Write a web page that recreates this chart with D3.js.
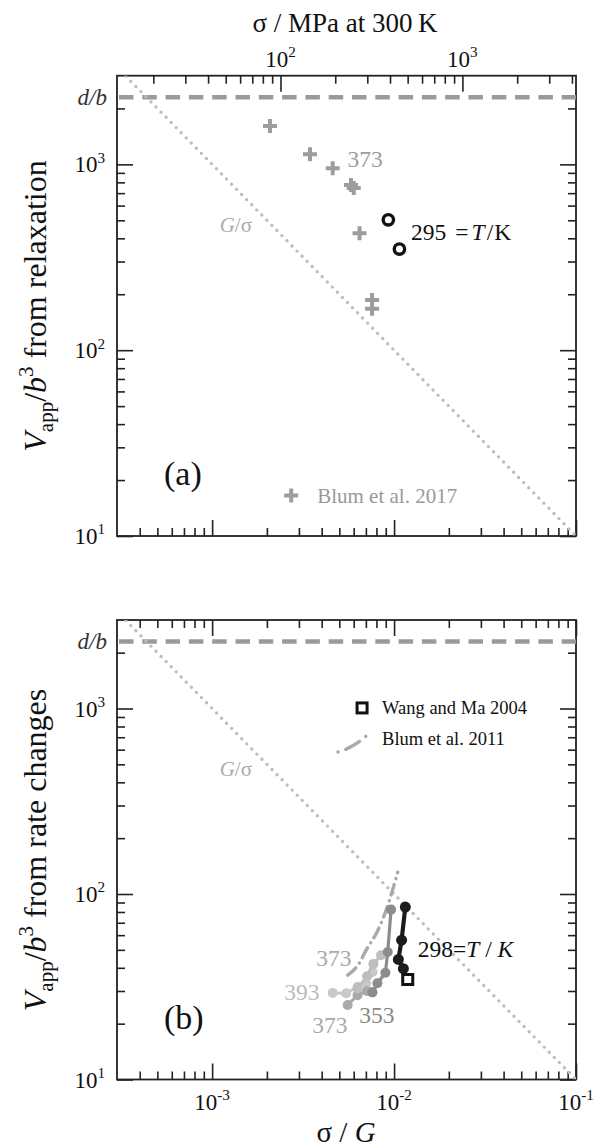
<!DOCTYPE html>
<html>
<head>
<meta charset="utf-8">
<script src="https://cdn.jsdelivr.net/npm/d3@7"></script>
<style>
  body { margin: 0; background: #fff; }
  svg, text { font-family: "Liberation Serif", "Times New Roman", serif; }
</style>
</head>
<body>
<svg id="chart" width="601" height="1148" font-family="Liberation Serif, serif"></svg>
<script>
// values (x = sigma/G, y = V_app/b^3)
const shearModulusMPa = 42100;      // maps sigma/G to sigma/MPa on the top axis
const dOverB = 2300;

const relaxation373 = [[0.00208, 1610], [0.00345, 1135], [0.0046, 954], [0.0058, 775], [0.0060, 745],
                       [0.00646, 426], [0.00757, 186], [0.00757, 167]];
const relaxation295 = [[0.0093, 503], [0.0107, 350]];

const wangMa2004 = [[0.01189, 34.6]];
const blum2011 = [[0.00556, 36.5], [0.0064, 42], [0.00702, 49.8], [0.0081, 63], [0.00904, 81.6], [0.01047, 131]];

const rate393 = [[0.0046, 29.3], [0.00545, 29.2], [0.00631, 31.6], [0.00702, 33], [0.00763, 38]];
const rate373a = [[0.0063, 31], [0.0071, 36], [0.0077, 42], [0.00848, 46.8]];
const rate373b = [[0.00556, 25.2], [0.0063, 28.5], [0.0071, 30], [0.0076, 29.5]];
const rate353 = [[0.0076, 29.5], [0.0081, 33], [0.00896, 37.6], [0.00923, 48.7], [0.00963, 82.4]];
const rate298 = [[0.01125, 39.6], [0.01056, 44.4], [0.0110, 56.4], [0.01153, 85]];

const xMajor = [1e-3, 1e-2, 1e-1];
const yMajor = [10, 100, 1000];
const mpaMajor = [100, 1000];

const svg = d3.select("#chart");
const left = 117, right = 576;

const x = d3.scaleLog().domain([3e-4, 0.1]).range([left, right]);
const mpa = d3.scaleLog().domain([3e-4 * shearModulusMPa, 0.1 * shearModulusMPa]).range([left, right]);

function minorTicks(lo, hi) {
  const out = [];
  for (let e = Math.floor(Math.log10(lo)); e <= Math.ceil(Math.log10(hi)); e++) {
    for (let m = 2; m <= 9; m++) {
      const v = m * Math.pow(10, e);
      if (v > lo * 1.0001 && v < hi * 0.9999) out.push(v);
    }
  }
  return out;
}

function tickPair(g, axisFn, scale, majors, minors) {
  g.append("g").call(axisFn(scale).tickValues(minors).tickSize(-8).tickSizeOuter(0).tickFormat(""));
  g.append("g").call(axisFn(scale).tickValues(majors).tickSize(-16).tickSizeOuter(0).tickFormat(""));
  g.selectAll("path.domain").remove();
  g.selectAll("line").attr("stroke", "#222").attr("stroke-width", 1.6);
}

function powerLabel(sel, base, exp, size) {
  sel.append("tspan").text(base);
  sel.append("tspan").attr("dy", -size * 0.42).attr("font-size", size * 0.66).text(exp);
}

const dotted = "0 7.2";

function drawPanel(top, bottom, opts) {
  const y = d3.scaleLog().domain([10, 3000]).range([bottom, top]);
  const g = svg.append("g");

  // ticks, all pointing inwards
  tickPair(g.append("g").attr("transform", `translate(${left},0)`), d3.axisLeft, y, yMajor, minorTicks(10, 3000));
  tickPair(g.append("g").attr("transform", `translate(${right},0)`), d3.axisRight, y, yMajor, minorTicks(10, 3000));
  tickPair(g.append("g").attr("transform", `translate(0,${bottom})`), d3.axisBottom, x, xMajor, minorTicks(3e-4, 0.1));
  if (opts.mpaTop) {
    tickPair(g.append("g").attr("transform", `translate(0,${top})`), d3.axisTop, mpa, mpaMajor,
      minorTicks(3e-4 * shearModulusMPa, 0.1 * shearModulusMPa));
  } else {
    tickPair(g.append("g").attr("transform", `translate(0,${top})`), d3.axisTop, x, xMajor, minorTicks(3e-4, 0.1));
  }

  g.append("rect").attr("x", left).attr("y", top).attr("width", right - left).attr("height", bottom - top)
    .attr("fill", "none").attr("stroke", "#222").attr("stroke-width", 1.8);

  // y tick labels
  yMajor.forEach(v => {
    const t = g.append("text").attr("x", 105).attr("y", y(v) + 8).attr("text-anchor", "end")
      .attr("font-size", 23).attr("fill", "#111");
    powerLabel(t, "10", String(Math.log10(v)), 23);
  });
  g.append("text").attr("x", 107).attr("y", y(dOverB) + 8).attr("text-anchor", "end")
    .attr("font-size", 23).attr("font-style", "italic").attr("fill", "#333").text("d/b");

  // clip for plot content
  const clipId = "clip" + Math.round(top);
  svg.append("clipPath").attr("id", clipId).append("rect")
    .attr("x", left).attr("y", top).attr("width", right - left).attr("height", bottom - top);
  const plot = g.append("g").attr("clip-path", `url(#${clipId})`);

  // d/b dashed line
  plot.append("line").attr("x1", left + 2).attr("x2", right).attr("y1", y(dOverB)).attr("y2", y(dOverB))
    .attr("stroke", "#9a9a9a").attr("stroke-width", 4.5).attr("stroke-dasharray", "14.5 8.8");

  // G/sigma dotted line (V = G/sigma)
  const gs = d3.range(0, 101).map(i => Math.pow(10, -3.53 + i * 2.53 / 100));
  plot.append("path").datum(gs)
    .attr("d", d3.line().x(d => x(d)).y(d => y(1 / d)))
    .attr("fill", "none").attr("stroke", "#bdbdbd").attr("stroke-width", 3.4)
    .attr("stroke-linecap", "round").attr("stroke-dasharray", dotted);

  const gsl = g.append("text").attr("x", x(1.1e-3)).attr("y", y(430)).attr("font-size", 21).attr("fill", "#aaa");
  gsl.append("tspan").attr("font-style", "italic").text("G");
  gsl.append("tspan").text("/σ");

  g.append("text").attr("x", 164).attr("y", bottom - 51).attr("font-size", 34).attr("fill", "#111").text(opts.tag);

  return { g, plot, y };
}

// ---------- panel (a) ----------
const pa = drawPanel(75.7, 536, { mpaTop: true, tag: "(a)" });

function cross(sel, cx, cy, size, color) {
  sel.append("path").attr("d", `M${cx - size},${cy}H${cx + size}M${cx},${cy - size}V${cy + size}`)
    .attr("stroke", color).attr("stroke-width", 4).attr("fill", "none");
}

relaxation373.forEach(d => cross(pa.plot, x(d[0]), pa.y(d[1]), 7, "#9d9d9d"));
pa.plot.selectAll("circle.r295").data(relaxation295).enter().append("circle")
  .attr("cx", d => x(d[0])).attr("cy", d => pa.y(d[1])).attr("r", 5.2)
  .attr("fill", "#fff").attr("stroke", "#111").attr("stroke-width", 3.4);

pa.g.append("text").attr("x", x(0.00554)).attr("y", pa.y(969)).attr("font-size", 23.5).attr("fill", "#9d9d9d").text("373");
const l295 = pa.g.append("text").attr("x", x(0.0124)).attr("y", pa.y(392)).attr("font-size", 23.5).attr("fill", "#111");
l295.append("tspan").text("295");
l295.append("tspan").attr("dx", 9).text("=");
l295.append("tspan").attr("dx", 3).attr("font-style", "italic").text("T");
l295.append("tspan").attr("dx", 2).text("/");
l295.append("tspan").attr("dx", 1).text("K");

// legend (a)
const legA = { x: x(2.72e-3), y: pa.y(16.5) };
cross(pa.g, legA.x, legA.y, 7, "#9d9d9d");
pa.g.append("text").attr("x", legA.x + 26).attr("y", legA.y + 7).attr("font-size", 21).attr("fill", "#999")
  .text("Blum et al. 2017");

// top axis
svg.append("g").selectAll("text").data(mpaMajor).enter().append("text")
  .attr("x", d => mpa(d)).attr("y", 67).attr("text-anchor", "middle").attr("font-size", 23).attr("fill", "#111")
  .each(function (d) { powerLabel(d3.select(this), "10", String(Math.log10(d)), 23); });
svg.append("text").attr("x", 345).attr("y", 32).attr("text-anchor", "middle").attr("font-size", 27)
  .attr("fill", "#111").text("σ / MPa at 300\u2009K");

// ---------- panel (b) ----------
const pb = drawPanel(620, 1079.5, { mpaTop: false, tag: "(b)" });

const rateLine = d3.line().x(d => x(d[0])).y(d => pb.y(d[1]));

// Blum 2011 dash-dot curve
pb.plot.append("path").datum(blum2011)
  .attr("d", d3.line().curve(d3.curveMonotoneX).x(d => x(d[0])).y(d => pb.y(d[1])))
  .attr("fill", "none").attr("stroke", "#a9a9a9").attr("stroke-width", 3.4)
  .attr("stroke-linecap", "round").attr("stroke-dasharray", "11 6 0.1 6");

const rateSeries = [
  { data: rate393, color: "#c9c9c9", r: 5, w: 3 },
  { data: rate373b, color: "#a9a9a9", r: 5, w: 3 },
  { data: rate373a, color: "#bebebe", r: 5, w: 3 },
  { data: rate353, color: "#8c8c8c", r: 5, w: 3.2 },
  { data: rate298, color: "#1c1c1c", r: 5.5, w: 4.2 }
];
rateSeries.forEach(s => {
  pb.plot.append("path").datum(s.data).attr("d", rateLine)
    .attr("fill", "none").attr("stroke", s.color).attr("stroke-width", s.w);
  pb.plot.selectAll(null).data(s.data).enter().append("circle")
    .attr("cx", d => x(d[0])).attr("cy", d => pb.y(d[1])).attr("r", s.r).attr("fill", s.color);
});

// Wang and Ma 2004 square
pb.plot.selectAll("rect.wm").data(wangMa2004).enter().append("rect")
  .attr("x", d => x(d[0]) - 5).attr("y", d => pb.y(d[1]) - 5).attr("width", 10).attr("height", 10)
  .attr("fill", "#fff").attr("stroke", "#111").attr("stroke-width", 3);

// temperature labels
const tempLabels = [
  { text: "373", x: 3.74e-3, y: 41, color: "#aaa" },
  { text: "393", x: 2.49e-3, y: 26.8, color: "#bbb" },
  { text: "373", x: 3.55e-3, y: 17.9, color: "#aaa" },
  { text: "353", x: 6.44e-3, y: 20.2, color: "#888" }
];
tempLabels.forEach(l => pb.g.append("text").attr("x", x(l.x)).attr("y", pb.y(l.y))
  .attr("font-size", 23.5).attr("fill", l.color).text(l.text));
const l298 = pb.g.append("text").attr("x", x(0.01349)).attr("y", pb.y(45.5)).attr("font-size", 23.5).attr("fill", "#111");
l298.append("tspan").text("298");
l298.append("tspan").text("=");
l298.append("tspan").attr("font-style", "italic").text("T");
l298.append("tspan").text(" / ");
l298.append("tspan").attr("font-style", "italic").text("K");

// legend (b)
const legB = { x: x(6.67e-3), y: pb.y(1007) };
pb.g.append("rect").attr("x", legB.x - 5).attr("y", legB.y - 5).attr("width", 10).attr("height", 10)
  .attr("fill", "#fff").attr("stroke", "#111").attr("stroke-width", 3);
pb.g.append("text").attr("x", legB.x + 20).attr("y", legB.y + 6).attr("font-size", 18.5).attr("fill", "#111")
  .text("Wang and Ma 2004");
pb.g.append("path").attr("d", `M${legB.x - 24},${legB.y + 44} Q${legB.x - 2},${legB.y + 38} ${legB.x + 14},${legB.y + 17}`)
  .attr("fill", "none").attr("stroke", "#a9a9a9").attr("stroke-width", 3.4)
  .attr("stroke-linecap", "round").attr("stroke-dasharray", "0.1 8 16 8 0.1 40");
pb.g.append("text").attr("x", legB.x + 20).attr("y", legB.y + 37).attr("font-size", 18.5).attr("fill", "#111")
  .text("Blum et al. 2011");

// bottom axis labels
svg.append("g").selectAll("text").data(xMajor).enter().append("text")
  .attr("x", d => x(d)).attr("y", 1110).attr("text-anchor", "middle").attr("font-size", 23).attr("fill", "#111")
  .each(function (d) { powerLabel(d3.select(this), "10", String(Math.log10(d)), 23); });
const xl = svg.append("text").attr("x", 346).attr("y", 1142).attr("text-anchor", "middle").attr("font-size", 29).attr("fill", "#111");
xl.append("tspan").text("σ / ");
xl.append("tspan").attr("font-style", "italic").text("G");

// y axis titles
function yTitle(cy, rest) {
  const t = svg.append("text").attr("transform", `translate(46,${cy}) rotate(-90)`)
    .attr("text-anchor", "middle").attr("font-size", 32).attr("fill", "#111");
  t.append("tspan").attr("font-style", "italic").text("V");
  t.append("tspan").attr("font-size", 21).attr("dy", 7).text("app");
  t.append("tspan").attr("dy", -7).text("/");
  t.append("tspan").attr("font-style", "italic").text("b");
  t.append("tspan").attr("font-size", 21).attr("dy", -13).text("3");
  t.append("tspan").attr("dy", 13).text(" " + rest);
}
yTitle(306, "from relaxation");
yTitle(850, "from rate changes");
</script>
</body>
</html>
